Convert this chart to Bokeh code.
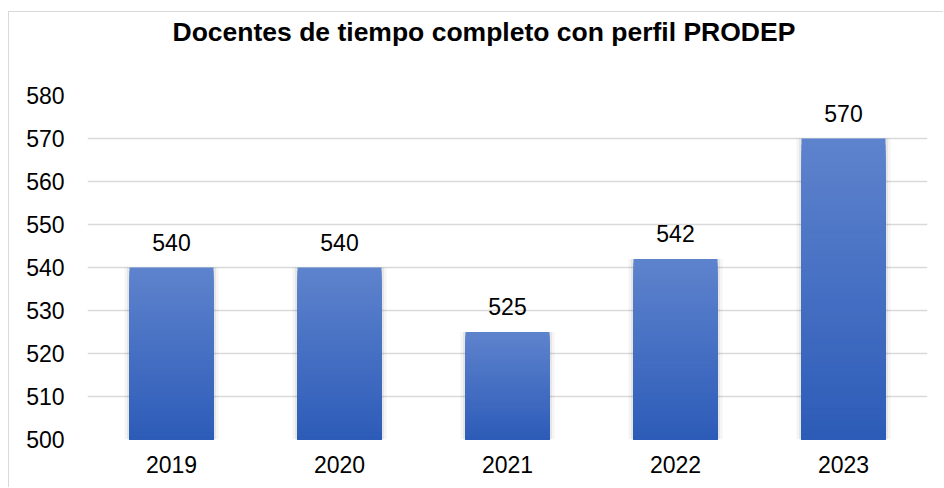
from bokeh.plotting import figure
from bokeh.models import ColumnDataSource, Range1d, FactorRange, FixedTicker, LabelSet, Title
from bokeh.core.properties import value
from bokeh.embed import file_html
from bokeh.resources import INLINE

# ---- data ----
years = ["2019", "2020", "2021", "2022", "2023"]
docentes = [540, 540, 525, 542, 570]
y_ticks = [500, 510, 520, 530, 540, 550, 560, 570, 580]
title_text = "Docentes de tiempo completo con perfil PRODEP"
base_value = 500

FONT = "Liberation Sans"
TOP_COLOR = (0x5E, 0x83, 0xCD)
BOTTOM_COLOR = (0x2D, 0x5C, 0xB8)
N_STEPS = 48

p = figure(
    width=935, height=476,
    x_range=FactorRange(factors=years, range_padding=0),
    y_range=Range1d(y_ticks[0], y_ticks[-1]),
    output_backend="svg", toolbar_location=None,
    min_border_left=78, min_border_right=17, min_border_top=83, min_border_bottom=49,
)
p.styles = {"border-top": "1px solid #d9d9d9", "border-left": "1px solid #d9d9d9",
            "margin-top": "11px", "margin-left": "8px"}
p.outline_line_color = None
p.background_fill_color = "white"
p.border_fill_color = "white"

# spacer panel between the frame and the title (added first -> closest to frame)
p.add_layout(Title(text=" ", text_font_size="2px", standoff=43), "above")
# main title
p.add_layout(Title(text=title_text, align="left", offset=85, text_font=FONT,
                   text_font_size="26.5px", text_font_style="bold", text_color="black",
                   vertical_align="top", standoff=0), "above")

# soft shadow behind bars
p.vbar(x=years, top=docentes, bottom=base_value, width=0.5 + 10 / 168,
       fill_color="black", fill_alpha=0.04, line_color=None)
p.vbar(x=years, top=docentes, bottom=base_value, width=0.5 + 5 / 168,
       fill_color="black", fill_alpha=0.06, line_color=None)

# gradient bars: overlapping layers, lightest (full height) first
xs, tops, bottoms, colors = [], [], [], []
for k in range(N_STEPS):
    frac = 1 - k / N_STEPS
    t = k / (N_STEPS - 1)
    c = tuple(round(TOP_COLOR[i] + (BOTTOM_COLOR[i] - TOP_COLOR[i]) * t) for i in range(3))
    col = "#%02x%02x%02x" % c
    for yr, v in zip(years, docentes):
        xs.append(yr)
        bottoms.append(base_value)
        tops.append(base_value + (v - base_value) * frac)
        colors.append(col)
src = ColumnDataSource(dict(x=xs, top=tops, bottom=bottoms, color=colors))
p.vbar(x="x", top="top", bottom="bottom", width=0.5, fill_color="color",
       line_color=None, source=src)

lab_src = ColumnDataSource(dict(x=years, y=docentes, text=[str(v) for v in docentes]))
p.add_layout(LabelSet(x="x", y="y", text="text", source=lab_src, y_offset=17,
                      text_align="center", text_baseline="alphabetic",
                      text_font=value(FONT), text_font_size="23px", text_color="black"))

# axes
p.yaxis.ticker = FixedTicker(ticks=y_ticks)
p.yaxis.axis_line_color = None
p.yaxis.major_tick_line_color = None
p.yaxis.minor_tick_line_color = None
p.yaxis.major_label_standoff = 17
p.yaxis.major_label_text_font = FONT
p.yaxis.major_label_text_font_size = "23px"
p.yaxis.major_label_text_color = "black"

p.xaxis.axis_line_color = None
p.xaxis.major_tick_line_color = None
p.xaxis.minor_tick_line_color = None
p.xaxis.major_label_standoff = 10
p.xaxis.major_label_text_font = FONT
p.xaxis.major_label_text_font_size = "23px"
p.xaxis.major_label_text_color = "black"

p.xgrid.grid_line_color = None
p.ygrid.grid_line_color = "#d9d9d9"
p.ygrid.grid_line_width = 1.5

open("out.html", "w").write(file_html(p, INLINE))
